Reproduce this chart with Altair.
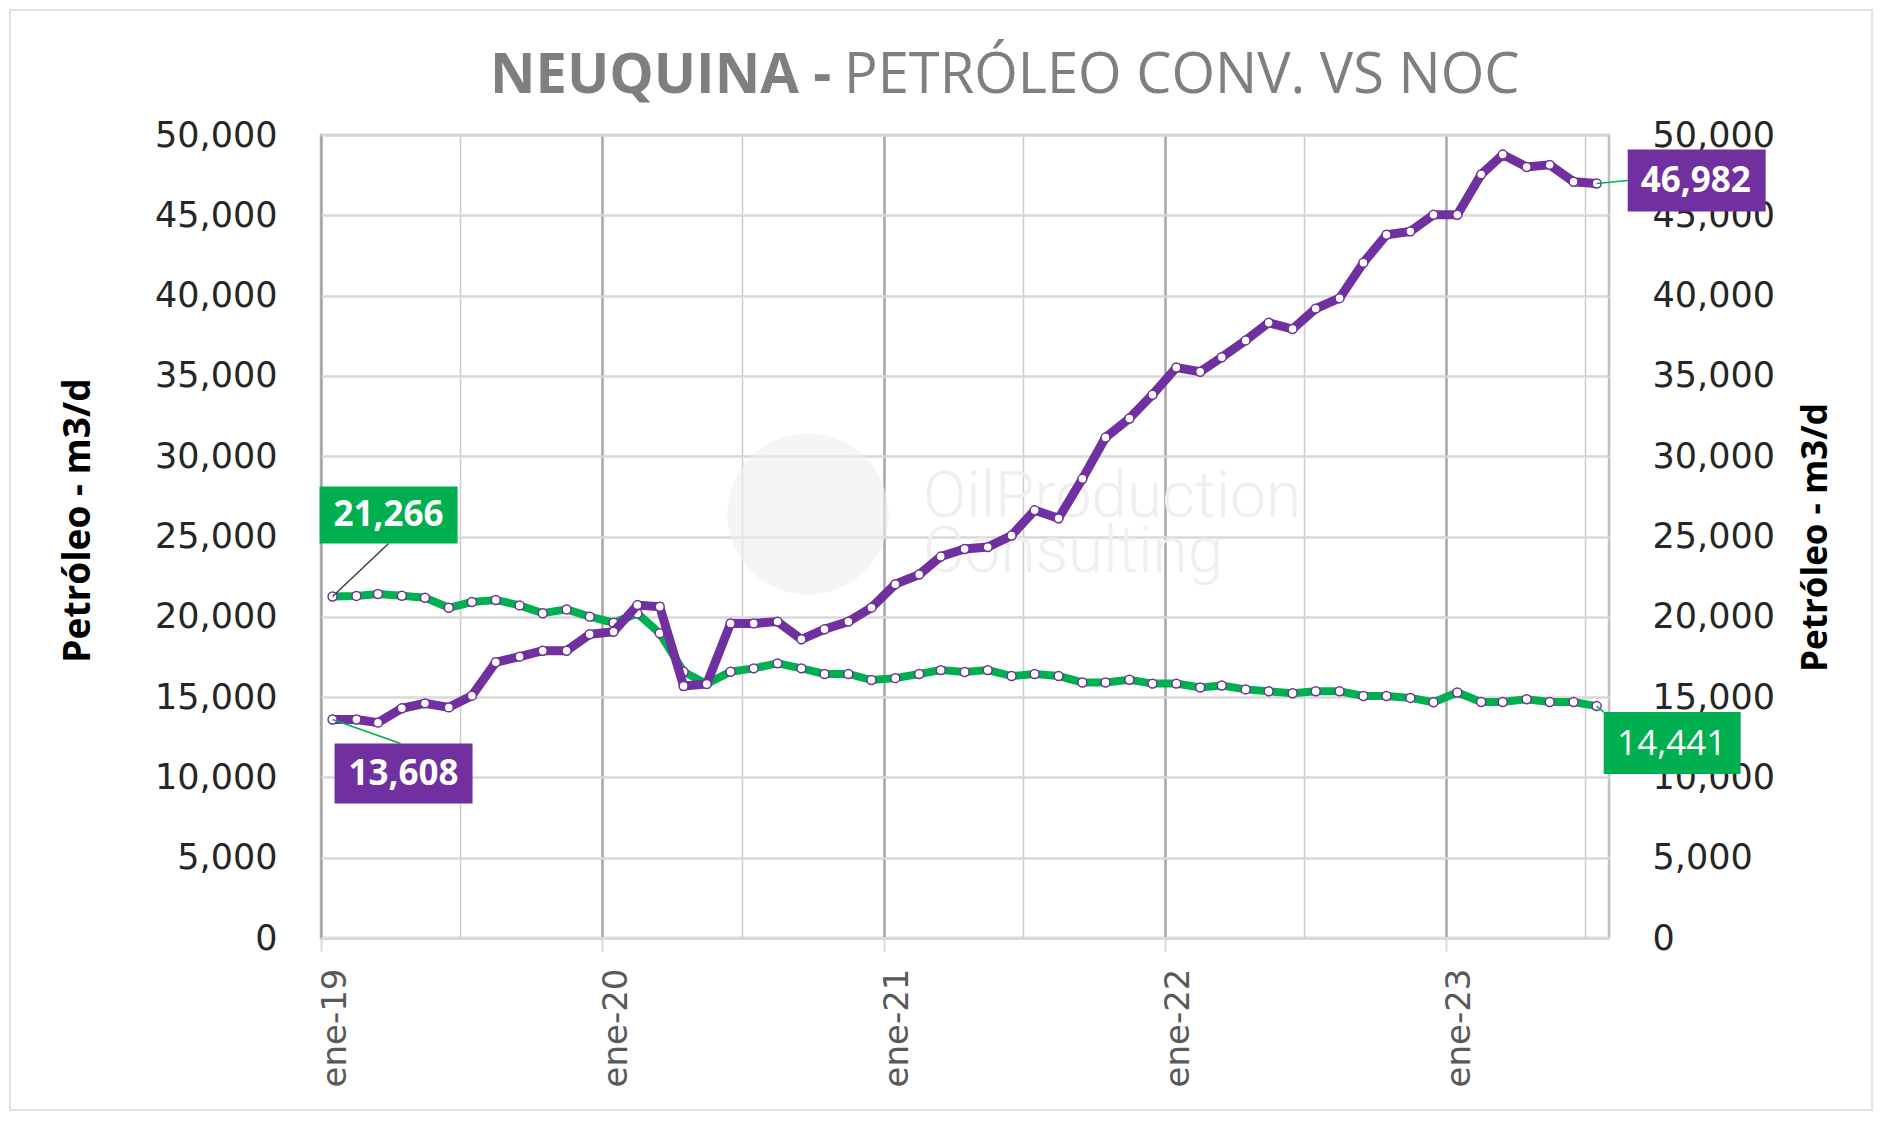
import altair as alt
import pandas as pd

# ---------------- data ----------------
months = [f"{y}-{m:02d}-16" for y in range(2019, 2024) for m in range(1, 13)][:55]

conv = [21266, 21300, 21420, 21310, 21190, 20560, 20920, 21050, 20710, 20220, 20460, 20010,
        19630, 20210, 18970, 16580, 15820, 16580, 16790, 17100, 16790, 16440, 16440, 16060,
        16180, 16440, 16680, 16560, 16680, 16310, 16440, 16310, 15910, 15910, 16080, 15840,
        15840, 15600, 15720, 15480, 15360, 15240, 15360, 15360, 15070, 15070, 14950, 14680,
        15290, 14690, 14690, 14870, 14690, 14690, 14441]

noc = [13608, 13600, 13410, 14300, 14610, 14360, 15090, 17170, 17520, 17890, 17890, 18910,
       19070, 20730, 20630, 15690, 15820, 19590, 19590, 19700, 18600, 19220, 19700, 20570,
       22030, 22630, 23750, 24220, 24340, 25060, 26630, 26130, 28590, 31160, 32350, 33830,
       35520, 35260, 36160, 37210, 38310, 37920, 39190, 39840, 42050, 43790, 44000, 45030,
       45030, 47550, 48780, 48010, 48140, 47090, 46982]

y_ticks = list(range(0, 50001, 5000))

label_keys = ["conv_ini", "noc_ini", "noc_fin", "conv_fin"]
label_dates = [months[0], months[0], months[-1], months[-1]]
label_vals = [conv[0], noc[0], noc[-1], conv[-1]]
label_texts = [f"{v:,}" for v in label_vals]

df_conv = pd.DataFrame({"fecha": months, "valor": conv})
df_noc = pd.DataFrame({"fecha": months, "valor": noc})
df_lab = pd.DataFrame({"key": label_keys, "fecha": label_dates, "valor": label_vals, "texto": label_texts})

GREEN = "#00B050"
PURPLE = "#7030A0"

# ---------------- scales / axes ----------------
grid_dates = [alt.DateTime(year=y, month=m, date=1, utc=True) for y in range(2019, 2024) for m in (1, 7)]
x_scale = alt.Scale(type="utc",
                    domain=[alt.DateTime(year=2019, month=1, date=1, utc=True),
                            alt.DateTime(year=2023, month=8, date=1, utc=True)])
is_jan = "utcmonth(datum.value) == 0"
x_axis = alt.Axis(
    values=grid_dates, title=None,
    labelExpr="utcmonth(datum.value) == 0 ? 'ene-' + utcFormat(datum.value, '%y') : ''",
    labelAngle=-90, labelFont="DejaVu Sans", labelFontSize=34, labelColor="#595959",
    labelPadding=17, labelOffset=14, labelFlush=False, labelOverlap=False, labelBound=False,
    tickSize=13, tickWidth=2,
    tickColor=alt.condition(is_jan, alt.value("#d9d9d9"), alt.value("transparent")),
    gridColor=alt.condition(is_jan, alt.value("#a6a6a6"), alt.value("#cccccc")),
    gridWidth=alt.condition(is_jan, alt.value(2.5), alt.value(1.5)),
    domainColor="#d9d9d9", domainWidth=3,
)
X = alt.X("fecha:T", scale=x_scale, axis=x_axis)

y_scale = alt.Scale(domain=[0, 50000], nice=False, zero=True)
common_y = dict(values=y_ticks, format=",.0f", labelFont="DejaVu Sans", labelFontSize=35,
                labelColor="#262626", ticks=False, domain=False,
                title="Petróleo - m3/d", titleFont="Open Sans", titleFontWeight="bold",
                titleColor="#000000", titleAngle=-90, titleAlign="center", titleBaseline="middle")
left_axis = alt.Axis(orient="left", labelPadding=44, grid=True, gridColor="#d9d9d9", gridWidth=2.5,
                     titleFontSize=37, titleX=-243, titleY=385, **common_y)
right_axis = alt.Axis(orient="right", labelPadding=43, grid=False,
                      titleFontSize=35, titleX=206, titleY=402, **common_y)
YL = alt.Y("valor:Q", scale=y_scale, axis=left_axis)
YR = alt.Y("valor:Q", scale=y_scale, axis=right_axis)

# ---------------- decorations ----------------
one = pd.DataFrame({"k": [0]})
title_bold = alt.Chart(one).mark_text(text="NEUQUINA -", font="Open Sans", fontWeight="bold", fontSize=56,
                                      color="#7f7f7f", align="left", baseline="alphabetic").encode(
    x=alt.value(169), y=alt.value(-42))
title_norm = alt.Chart(one).mark_text(text="PETRÓLEO CONV. VS NOC", font="Open Sans", fontWeight="normal",
                                      fontSize=56, color="#7f7f7f", align="left", baseline="alphabetic").encode(
    x=alt.value(523), y=alt.value(-42))
wm_globe = alt.Chart(one).mark_circle(size=26000, color="#eeeeee", opacity=0.6).encode(
    x=alt.value(487), y=alt.value(379))
wm_t1 = alt.Chart(one).mark_text(text="OilProduction", font="Roboto", fontWeight=300, fontSize=64,
                                 color="#efefef", align="left", baseline="alphabetic").encode(
    x=alt.value(602), y=alt.value(382))
wm_t2 = alt.Chart(one).mark_text(text="Consulting", font="Roboto", fontWeight=300, fontSize=64,
                                 color="#efefef", align="left", baseline="alphabetic").encode(
    x=alt.value(602), y=alt.value(437))
frame = alt.Chart(one).mark_rect(fill=None, stroke="#d9d9d9", strokeWidth=1.5).encode(
    x=alt.value(-311), x2=alt.value(1551), y=alt.value(-125), y2=alt.value(975))

# ---------------- series ----------------
green_line = alt.Chart(df_conv).mark_line(color=GREEN, strokeWidth=8).encode(x=X, y=YL)
green_pts = alt.Chart(df_conv).mark_point(filled=True, fill="white", stroke=PURPLE, strokeWidth=1.5,
                                          size=80, opacity=1).encode(x=X, y=YL)
purple_line = alt.Chart(df_noc).mark_line(color=PURPLE, strokeWidth=9).encode(x=X, y=YR)
purple_pts = alt.Chart(df_noc).mark_point(filled=True, fill="white", stroke=PURPLE, strokeWidth=1.5,
                                          size=80, opacity=1).encode(x=X, y=YR)

# ---------------- data labels ----------------
lab_style = {
    # key: (box color, leader color, box offsets (x1,x2,y1,y2), leader end (dx,dy), text (dx,dy), weight)
    "conv_ini": (GREEN, "#404040", (-13, 125, -110, -53), (56, -53), (56, -81), "bold"),
    "noc_ini": (PURPLE, GREEN, (2, 140, 24, 84), (68, 24), (71, 55), "bold"),
    "noc_fin": (PURPLE, GREEN, (31, 169, -34, 28), (31, -3), (99, -2), "bold"),
    "conv_fin": (GREEN, GREEN, (7, 144, 6, 68), (7, 6), (75, 38), "normal"),
}
lab_layers = []
for key, (bc, lc, (bx1, bx2, by1, by2), (lx, ly), (tx, ty), fw) in lab_style.items():
    base = alt.Chart(df_lab).transform_filter(alt.datum.key == key)
    leader = base.mark_rule(color=lc, strokeWidth=1.5, x2Offset=lx, y2Offset=ly).encode(
        x=X, y=YR, x2=alt.X2("fecha:T"), y2=alt.Y2("valor:Q"))
    box = base.mark_rect(color=bc, xOffset=bx1, x2Offset=bx2, yOffset=by1, y2Offset=by2).encode(
        x=X, y=YR, x2=alt.X2("fecha:T"), y2=alt.Y2("valor:Q"))
    txt = base.mark_text(color="white", font="Open Sans", fontWeight=fw, fontSize=35, dx=tx, dy=ty,
                         align="center", baseline="middle").encode(x=X, y=YR, text="texto:N")
    lab_layers += [leader, box, txt]

group_left = alt.layer(frame, wm_globe, wm_t1, wm_t2, title_bold, title_norm, green_line, green_pts)
group_right = alt.layer(purple_line, purple_pts, *lab_layers)

chart = alt.layer(group_left, group_right).resolve_scale(y="independent").properties(
    width=1288, height=803,
    autosize=alt.AutoSizeParams(type="none"),
    padding={"left": 313, "top": 127, "right": 265, "bottom": 174},
    background="white",
).configure_view(stroke="#bfbfbf", strokeWidth=2.5)

chart.save("out.html", embed_options={"renderer": "svg", "actions": False})
